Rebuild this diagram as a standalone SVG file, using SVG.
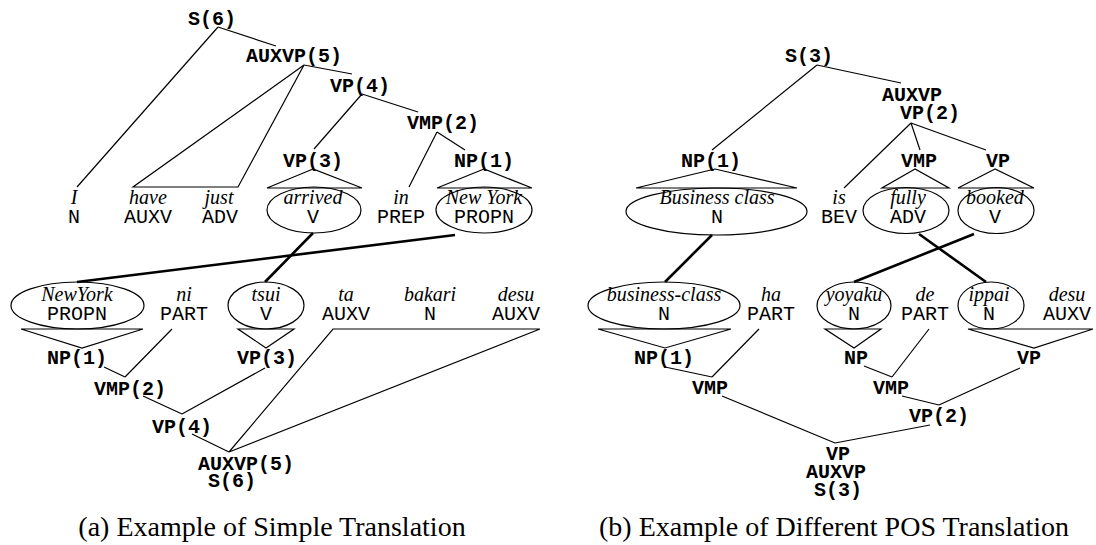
<svg xmlns="http://www.w3.org/2000/svg" width="1096" height="545" viewBox="0 0 1096 545">
<style>
.lbl{font-family:"Liberation Mono","Courier New",monospace;font-weight:bold;font-size:20px;text-anchor:middle;fill:#000}
.w{font-family:"Liberation Serif","Times New Roman",serif;font-style:italic;font-size:20px;text-anchor:middle;fill:#000}
.pos{font-family:"Liberation Mono","Courier New",monospace;font-size:20px;text-anchor:middle;fill:#000}
.cap{font-family:"Liberation Serif","Times New Roman",serif;font-size:28px;text-anchor:middle;fill:#000}
.ln{stroke:#000;stroke-width:1.2;fill:none}
.bl{stroke:#000;stroke-width:2.6;fill:none}
.tri{stroke:#000;stroke-width:1.2;fill:none}
.ell{stroke:#000;stroke-width:1.2;fill:none}
</style>
<rect width="1096" height="545" fill="#fff"/>
<g id="connectors">
  <!-- (a) top -->
  <line class="ln" x1="218" y1="27" x2="77" y2="187"/>
  <line class="ln" x1="218" y1="27" x2="276" y2="46"/>
  <line class="ln" x1="304" y1="65" x2="352" y2="74"/>
  <line class="ln" x1="362" y1="94" x2="314" y2="149"/>
  <line class="ln" x1="362" y1="94" x2="418" y2="112"/>
  <line class="ln" x1="437" y1="132" x2="409" y2="187"/>
  <line class="ln" x1="437" y1="132" x2="465" y2="150"/>
  <polygon class="tri" points="304,65 133,187 238,187"/>
  <polygon class="tri" points="313,169 267,188 362,188"/>
  <polygon class="tri" points="484,169 437,188 532,188"/>
  <!-- (a) alignments -->
  <line class="bl" x1="455" y1="235" x2="77" y2="282"/>
  <line class="bl" x1="313" y1="233" x2="265" y2="282"/>
  <!-- (a) bottom -->
  <polygon class="tri" points="21,329 143,329 82,348"/>
  <polygon class="tri" points="238,329 294,329 266,348"/>
  <polygon class="tri" points="333,329 540,329 229,452"/>
  <line class="ln" x1="104" y1="367" x2="125" y2="377"/>
  <line class="ln" x1="172" y1="329" x2="125" y2="377"/>
  <line class="ln" x1="265" y1="368" x2="182" y2="414"/>
  <line class="ln" x1="143" y1="396" x2="182" y2="414"/>
  <line class="ln" x1="192" y1="434" x2="229" y2="452"/>
  <!-- (b) top -->
  <line class="ln" x1="817" y1="65" x2="712" y2="150"/>
  <line class="ln" x1="817" y1="65" x2="901" y2="83"/>
  <line class="ln" x1="911" y1="123" x2="844" y2="188"/>
  <line class="ln" x1="911" y1="123" x2="920" y2="150"/>
  <line class="ln" x1="911" y1="123" x2="986" y2="150"/>
  <polygon class="tri" points="715,169 636,188 797,188"/>
  <polygon class="tri" points="915,169 882,188 949,188"/>
  <polygon class="tri" points="995,169 958,188 1034,188"/>
  <!-- (b) alignments -->
  <line class="bl" x1="712" y1="235" x2="665" y2="282"/>
  <line class="bl" x1="919" y1="234" x2="986" y2="282"/>
  <line class="bl" x1="974" y1="234" x2="854" y2="282"/>
  <!-- (b) bottom -->
  <polygon class="tri" points="598,329 731,329 665,348"/>
  <polygon class="tri" points="825,329 881,329 854,348"/>
  <polygon class="tri" points="968,329 1093,329 1034,348"/>
  <line class="ln" x1="665" y1="367" x2="712" y2="377"/>
  <line class="ln" x1="759" y1="329" x2="712" y2="377"/>
  <line class="ln" x1="864" y1="366" x2="892" y2="377"/>
  <line class="ln" x1="929" y1="329" x2="892" y2="377"/>
  <line class="ln" x1="1020" y1="368" x2="939" y2="405"/>
  <line class="ln" x1="902" y1="396" x2="939" y2="405"/>
  <line class="ln" x1="930" y1="425" x2="835" y2="443"/>
  <line class="ln" x1="722" y1="396" x2="835" y2="443"/>
</g>
<!-- (a) phrase nodes -->
<g id="a-S6"><text class="lbl" x="212" y="25">S(6)</text></g>
<g id="a-AUXVP5"><text class="lbl" x="294" y="62">AUXVP(5)</text></g>
<g id="a-VP4"><text class="lbl" x="360" y="92">VP(4)</text></g>
<g id="a-VMP2"><text class="lbl" x="443" y="129">VMP(2)</text></g>
<g id="a-VP3"><text class="lbl" x="313" y="167">VP(3)</text></g>
<g id="a-NP1"><text class="lbl" x="484" y="167">NP(1)</text></g>
<!-- (a) English words -->
<g id="a-I"><text class="w" x="74" y="204">I</text><text class="pos" x="74" y="223">N</text></g>
<g id="a-have"><text class="w" x="148" y="204">have</text><text class="pos" x="148" y="223">AUXV</text></g>
<g id="a-just"><text class="w" x="219" y="204">just</text><text class="pos" x="220" y="223">ADV</text></g>
<g id="a-arrived"><ellipse class="ell" cx="314" cy="210" rx="47" ry="23"/><text class="w" x="313" y="204">arrived</text><text class="pos" x="313" y="223">V</text></g>
<g id="a-in"><text class="w" x="401" y="204">in</text><text class="pos" x="401" y="223">PREP</text></g>
<g id="a-NewYork"><ellipse class="ell" cx="484" cy="210" rx="48" ry="23"/><text class="w" x="484" y="204">New York</text><text class="pos" x="484" y="223">PROPN</text></g>
<!-- (a) Japanese words -->
<g id="a-NewYorkJ"><ellipse class="ell" cx="77.5" cy="305.5" rx="66.5" ry="23.5"/><text class="w" x="77" y="301">NewYork</text><text class="pos" x="77" y="320">PROPN</text></g>
<g id="a-ni"><text class="w" x="184" y="301">ni</text><text class="pos" x="184" y="320">PART</text></g>
<g id="a-tsui"><ellipse class="ell" cx="266" cy="305.5" rx="38" ry="23.5"/><text class="w" x="266" y="301">tsui</text><text class="pos" x="266" y="320">V</text></g>
<g id="a-ta"><text class="w" x="346" y="301">ta</text><text class="pos" x="346" y="320">AUXV</text></g>
<g id="a-bakari"><text class="w" x="430" y="301">bakari</text><text class="pos" x="430" y="320">N</text></g>
<g id="a-desu"><text class="w" x="516" y="301">desu</text><text class="pos" x="516" y="320">AUXV</text></g>
<!-- (a) Japanese phrase nodes -->
<g id="a-NP1j"><text class="lbl" x="77" y="364">NP(1)</text></g>
<g id="a-VMP2j"><text class="lbl" x="130" y="395">VMP(2)</text></g>
<g id="a-VP3j"><text class="lbl" x="267" y="364">VP(3)</text></g>
<g id="a-VP4j"><text class="lbl" x="182" y="433">VP(4)</text></g>
<g id="a-AUXVP5j"><text class="lbl" x="246" y="470">AUXVP(5)</text><text class="lbl" x="232" y="487">S(6)</text></g>
<!-- (b) phrase nodes -->
<g id="b-S3"><text class="lbl" x="809" y="62">S(3)</text></g>
<g id="b-AUXVP"><text class="lbl" x="912" y="101">AUXVP</text><text class="lbl" x="930" y="119">VP(2)</text></g>
<g id="b-NP1"><text class="lbl" x="711" y="167">NP(1)</text></g>
<g id="b-VMP"><text class="lbl" x="919" y="167">VMP</text></g>
<g id="b-VP"><text class="lbl" x="998" y="167">VP</text></g>
<!-- (b) English words -->
<g id="b-business"><ellipse class="ell" cx="716.5" cy="211.5" rx="90.5" ry="23.5"/><text class="w" x="717" y="204">Business class</text><text class="pos" x="717" y="223">N</text></g>
<g id="b-is"><text class="w" x="839" y="204">is</text><text class="pos" x="839" y="223">BEV</text></g>
<g id="b-fully"><ellipse class="ell" cx="906" cy="210.5" rx="43" ry="23"/><text class="w" x="908" y="204">fully</text><text class="pos" x="908" y="223">ADV</text></g>
<g id="b-booked"><ellipse class="ell" cx="996" cy="210.5" rx="38" ry="23"/><text class="w" x="995" y="204">booked</text><text class="pos" x="995" y="223">V</text></g>
<!-- (b) Japanese words -->
<g id="b-businessJ"><ellipse class="ell" cx="664" cy="305.5" rx="76" ry="23.5"/><text class="w" x="664" y="301">business-class</text><text class="pos" x="664" y="320">N</text></g>
<g id="b-ha"><text class="w" x="771" y="301">ha</text><text class="pos" x="771" y="320">PART</text></g>
<g id="b-yoyaku"><ellipse class="ell" cx="854" cy="305.5" rx="37" ry="23.5"/><text class="w" x="854" y="301">yoyaku</text><text class="pos" x="854" y="320">N</text></g>
<g id="b-de"><text class="w" x="925" y="301">de</text><text class="pos" x="925" y="320">PART</text></g>
<g id="b-ippai"><ellipse class="ell" cx="991" cy="305.5" rx="33" ry="23.5"/><text class="w" x="989" y="301">ippai</text><text class="pos" x="989" y="320">N</text></g>
<g id="b-desu"><text class="w" x="1067" y="301">desu</text><text class="pos" x="1067" y="320">AUXV</text></g>
<!-- (b) Japanese phrase nodes -->
<g id="b-NP1j"><text class="lbl" x="664" y="364">NP(1)</text></g>
<g id="b-VMPj1"><text class="lbl" x="710" y="394">VMP</text></g>
<g id="b-NPj"><text class="lbl" x="856" y="364">NP</text></g>
<g id="b-VMPj2"><text class="lbl" x="891" y="394">VMP</text></g>
<g id="b-VPj"><text class="lbl" x="1029" y="364">VP</text></g>
<g id="b-VP2j"><text class="lbl" x="939" y="422">VP(2)</text></g>
<g id="b-rootj"><text class="lbl" x="838" y="460">VP</text><text class="lbl" x="836" y="478">AUXVP</text><text class="lbl" x="838" y="496">S(3)</text></g>
<!-- captions -->
<g id="captions">
  <text class="cap" x="272" y="536">(a) Example of Simple Translation</text>
  <text class="cap" x="834" y="536">(b) Example of Different POS Translation</text>
</g>
</svg>
